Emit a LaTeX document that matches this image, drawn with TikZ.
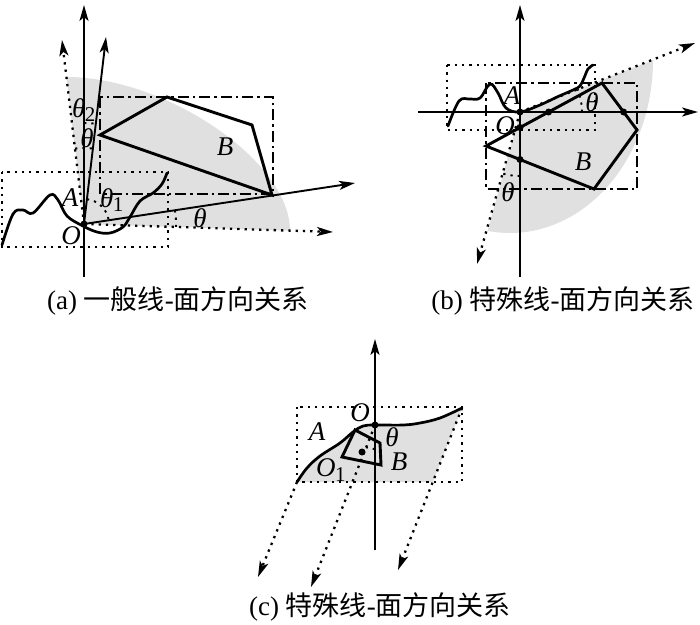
\documentclass[tikz,border=0pt]{standalone}
\usepackage{fontspec}
\setmainfont{Liberation Serif}
\newfontfamily\cjk{Noto Sans CJK SC}
\usetikzlibrary{arrows.meta}
\newcommand{\lbsub}[2]{\textit{#1}\kern-0.5pt\raisebox{-0.35ex}{\fontsize{21}{21}\selectfont\upshape #2}}
\begin{document}
\begin{tikzpicture}[x=1pt,y=-1pt,
  tipA/.tip={Stealth[length=16pt,width=9pt,inset=4pt]},
  axis/.style={line width=1.9pt,-tipA},
  dotl/.style={line width=2.3pt,dash pattern=on 2.3pt off 5pt},
  dotarrow/.style={dotl,-tipA},
  dashdot/.style={line width=1.9pt,dash pattern=on 11pt off 4pt on 2.5pt off 4pt},
  poly/.style={line width=2.9pt,line join=miter},
  curvel/.style={line width=2.7pt,line cap=round},
  lab/.style={font=\fontsize{27}{27}\selectfont\itshape,inner sep=0pt},
  captext/.style={font=\fontsize{27}{27}\selectfont,inner sep=0pt},
  pnt/.style={circle,fill=black,inner sep=0pt,minimum size=7pt},
  shade/.style={fill=black!12}
]
\useasboundingbox (0,0) rectangle (700,624);

% ================= (a) =================
\coordinate (aO) at (84,224);
\coordinate (aVb) at (84,277);
\coordinate (aVt) at (84,5);
\coordinate (aT) at (106,37);
\coordinate (aD) at (62,40);
\coordinate (aX) at (355,183);
\coordinate (aH) at (333,232);
\coordinate (aG1) at (66.4,77);
\coordinate (aG2) at (290,230.6);

\fill[shade] (aO) -- (aG1) .. controls (166,77) and (290,161) .. (aG2) -- cycle;
\draw[dotl] (2,172) rectangle (168,247);
\draw[dashdot] (100,97) rectangle (273,194);
\draw[poly] (100,135) -- (167,97) -- (252,125) -- (272,195) -- cycle;
\draw[curvel] plot[smooth,tension=0.6] coordinates {(2,245) (13,214) (23,210) (33,213) (50,195) (58,200) (67,216) (83,226) (97,232) (110,233) (123,227) (130,217) (140,201) (153,193) (162,184) (167,173)};

\draw[axis] (aVb) -- (aVt);
\draw[axis] (aO) -- (aT);
\draw[axis] (aO) -- (aX);
\draw[dotarrow] (aO) -- (aD);
\draw[dotarrow] (aO) -- (aH);

\draw[dotl,line width=1.9pt] (aO) ++(-83.3:25) arc[start angle=-83.3,end angle=-8.6,radius=25];
\draw[dotl,line width=1.9pt] (aO) ++(-8.6:92) arc[start angle=-8.6,end angle=1.8,radius=92];
\draw[dotl,line width=1.9pt] (aO) ++(-90:101) arc[start angle=-90,end angle=-83.3,radius=101];
\draw[dotl,line width=1.9pt] (aO) ++(-96.8:76) arc[start angle=-96.8,end angle=-83.3,radius=76];

\node[pnt] (aOp) at (aO) {};
\node[lab] (aA) at (70,198) {A};
\node[lab] (aOl) at (71,236) {O};
\node[lab] (aB) at (225,147) {B};
\node[lab] (aTh) at (200,218) {θ};
\node[lab,anchor=west] (aTh1) at (100,200) {\lbsub{θ}{1}};
\node[lab,anchor=west] (aTh2) at (72,110) {\lbsub{θ}{2}};
\node[lab] (aTh0) at (87,138) {θ};

\node[captext] (capA) at (178,301) {(a) {\cjk 一般线}-{\cjk 面方向关系}};

% ================= (b) =================
\coordinate (bO) at (520,112);
\coordinate (bVb) at (520,277);
\coordinate (bVt) at (520,5);
\coordinate (bHl) at (418,112);
\coordinate (bHr) at (698,112);
\coordinate (bU) at (695,43);
\coordinate (bL) at (477,264);
\coordinate (bG1) at (653,60);

\fill[shade] (bO) -- (bG1) arc[start angle=0,end angle=99,x radius=143,y radius=173] -- cycle;
\draw[dotl] (447,65) rectangle (595,130);
\draw[dashdot] (486,83) rectangle (637,189);
\draw[poly] (486,146) -- (602,83) -- (637,130) -- (594,189) -- cycle;
\draw[curvel] plot[smooth,tension=0.6] coordinates {(448,126) (459,101) (470,99) (480,98) (490,84) (498,93) (506,108) (520,112) (540,105) (557,97) (573,90) (580,86) (584,78) (588,69) (593,65)};

\draw[axis] (bVb) -- (bVt);
\draw[axis] (bHl) -- (bHr);
\draw[dotarrow] (bO) -- (bU);
\draw[dotarrow] (bO) -- (bL);

\draw[dotl,line width=1.9pt] (bO) ++(0:62) arc[start angle=0,end angle=-21.5,radius=62];
\draw[dotl,line width=1.9pt] (bO) ++(90:64) arc[start angle=90,end angle=105.8,radius=64];

\node[pnt] (bP1) at (bO) {};
\node[pnt] (bP2) at (520,127.5) {};
\node[pnt] (bP3) at (548.6,112) {};
\node[pnt] (bP4) at (623.6,112) {};
\node[pnt] (bP5) at (520,159.5) {};
\node[lab] (bA) at (512,96) {A};
\node[lab] (bOl) at (505,126) {O};
\node[lab] (bB) at (583,162) {B};
\node[lab] (bTh1) at (592,102) {θ};
\node[lab] (bTh2) at (508,192) {θ};

\node[captext] (capB) at (563,301) {(b) {\cjk 特殊线}-{\cjk 面方向关系}};

% ================= (c) =================
\coordinate (cO) at (375,425);
\coordinate (cVb) at (375,550);
\coordinate (cVt) at (375,339);
\coordinate (cL0) at (297,482);
\coordinate (cR0) at (462,408);
\coordinate (cBr) at (432.8,482);

\fill[shade] plot[smooth,tension=0.6] coordinates {(297,482) (307,468) (320,456) (340,443) (353,432) (363,426) (375,425) (403,425) (420,423) (440,418) (462,408)} -- (cBr) -- cycle;
\draw[dotl] (297,407) rectangle (462,482);
\draw[curvel] plot[smooth,tension=0.6] coordinates {(297,482) (307,468) (320,456) (340,443) (353,432) (363,426) (375,425) (403,425) (420,423) (440,418) (462,408)};
\draw[poly] (355,430) -- (380,443) -- (381,465) -- (342,457) -- cycle;

\draw[axis] (cVb) -- (cVt);
\draw[dotarrow] (cL0) -- (258,577);
\draw[dotarrow] (cO) -- (311,587);
\draw[dotarrow] (cR0) -- (398,570);
\draw[dotl,line width=1.9pt] (cO) ++(90:24) arc[start angle=90,end angle=111.6,radius=24];

\node[pnt] (cP) at (cO) {};
\node[pnt] (cP1) at (362,452) {};
\node[lab] (cA) at (317,432) {A};
\node[lab] (cOl) at (360,413) {O};
\node[lab] (cTh) at (392,437) {θ};
\node[lab] (cB) at (399,462) {B};
\node[lab,anchor=west] (cO1) at (316,470) {\lbsub{O}{1}};

\node[captext] (capC) at (380,607) {(c) {\cjk 特殊线}-{\cjk 面方向关系}};
\end{tikzpicture}
\end{document}
